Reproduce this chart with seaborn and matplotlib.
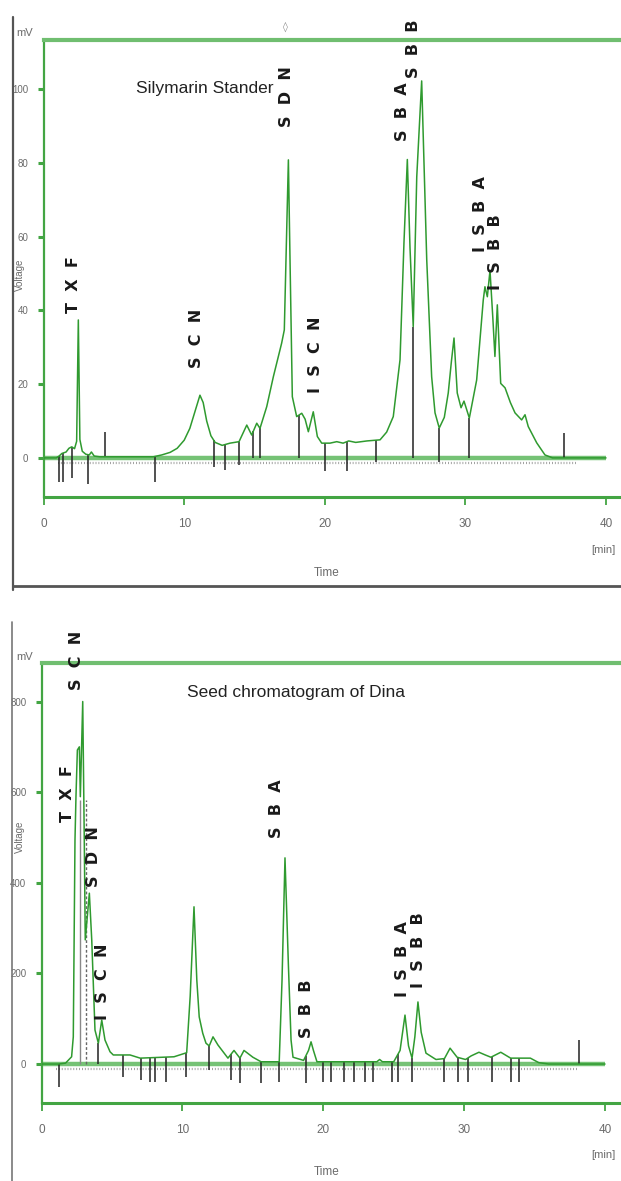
import numpy as np
import pandas as pd
import matplotlib
matplotlib.use('Agg')
import matplotlib.pyplot as plt
from matplotlib.lines import Line2D
from matplotlib.patches import Rectangle
import seaborn as sns

W, H = 621, 1181

# ---- Silymarin standard (time in min, signal in mV) ----
std_time = [0.0, 0.9, 1.1, 1.3, 1.6, 1.8, 2.0, 2.2, 2.35, 2.47, 2.58, 2.75, 3.0, 3.25, 3.4, 3.6,
            4.0, 7.8, 8.4, 9.0, 9.5, 10.0, 10.4, 10.8, 11.12, 11.35, 11.6, 11.9, 12.2, 12.7, 13.26,
            13.9, 14.45, 14.8, 15.16, 15.39, 15.87, 16.34, 16.93, 17.12, 17.29, 17.41, 17.53, 17.69,
            18.0, 18.36, 18.6, 18.83, 19.18, 19.47, 19.78, 20.37, 20.85, 21.3, 21.7, 22.2, 23.0,
            23.93, 24.4, 24.87, 25.35, 25.63, 25.87, 26.06, 26.29, 26.54, 26.89, 27.25, 27.6, 27.84,
            28.14, 28.5, 28.78, 29.0, 29.19, 29.42, 29.69, 29.9, 30.28, 30.8, 31.27, 31.39, 31.56,
            31.75, 31.95, 32.1, 32.27, 32.51, 32.82, 33.2, 33.53, 34.0, 34.24, 34.47, 35.07, 35.66,
            36.2, 40.0]
std_signal = [0, 0, 0.5, 1.2, 1.6, 2.6, 3.0, 2.5, 4.5, 37.4, 5.0, 1.8, 1.0, 0.8, 1.6, 0.5,
              0.3, 0.3, 0.8, 1.5, 2.6, 4.8, 8.0, 13.0, 17.0, 15.0, 10.0, 6.0, 4.2, 3.4, 4.0,
              4.4, 8.9, 6.2, 9.4, 8.0, 13.9, 22.0, 31.1, 34.7, 61.8, 80.8, 52.8, 16.6,
              11.2, 12.1, 10.5, 7.1, 12.5, 5.8, 4.0, 4.0, 4.4, 4.0, 4.6, 4.2, 4.6,
              4.9, 7.0, 11.2, 26.6, 58.3, 80.9, 57.0, 35.6, 76.2, 102.2, 53.7, 22.0, 12.2,
              8.1, 11.0, 17.6, 26.0, 32.5, 17.6, 13.6, 15.4, 10.8, 21.1, 42.8, 46.4, 43.7,
              50.8, 38.0, 27.5, 41.5, 20.2, 19.0, 15.0, 12.2, 10.3, 11.7, 8.5, 4.1, 0.8,
              0, 0]
std_peaks = ["TXF", "SCN", "SDN", "ISCN", "SBA", "SBB", "ISBA", "ISBB"]
std_peak_time = [2.16, 10.84, 17.31, 19.37, 25.51, 26.29, 31.04, 32.15]
std_peak_label_y = [39.3, 24.4, 89.7, 17.6, 85.9, 102.9, 55.9, 45.5]
std_marks = [1.07, 1.35, 2.03, 3.15, 4.37, 7.89, 12.1, 12.9, 13.9, 14.92, 15.39, 18.19,
             20.01, 21.56, 23.66, 26.29, 28.14, 30.28, 37.04]
std_mark_end = [-6.5, -6.5, -5.4, -7.0, 7.0, -6.5, -2.4, -3.3, -1.9, 0, 0, 0,
                -3.5, -3.5, -1.0, 0, -1.0, 0, 6.8]
std_yticks = [0, 20, 40, 60, 80, 100]

# ---- Seed chromatogram of Dina ----
seed_time = [0.0, 1.19, 1.7, 2.13, 2.25, 2.37, 2.44, 2.54, 2.68, 2.75, 2.92, 3.03, 3.1, 3.39,
             3.56, 3.79, 4.03, 4.27, 4.5, 4.86, 5.09, 6.28, 7.0, 9.4, 9.8, 10.3, 10.55, 10.82,
             11.02, 11.19, 11.44, 11.67, 11.9, 12.17, 12.52, 13.23, 13.66, 14.08, 14.37, 15.0,
             15.58, 16.87, 17.07, 17.28, 17.52, 17.71, 17.85, 18.6, 18.95, 19.13, 19.3, 19.55,
             23.8, 24.0, 24.2, 25.0, 25.45, 25.8, 26.05, 26.3, 26.5, 26.72, 26.95, 27.29, 28.0,
             28.6, 29.0, 29.5, 30.1, 30.5, 31.05, 31.5, 31.9, 32.6, 33.3, 34.7, 35.3, 36.0, 40.0]
seed_signal = [0, 0, 2, 16, 60, 494, 590, 693, 700, 590, 800, 494, 274, 377,
               274, 75, 46, 97, 53, 27, 20, 20, 13, 16, 20, 25, 150, 347,
               185, 104, 68, 46, 40, 60, 42, 13, 30, 13, 30, 15,
               5, 5, 185, 455, 220, 53, 15, 8, 30, 49, 30, 5,
               5, 10, 5, 5, 30, 108, 40, 13, 60, 137, 70, 24, 10,
               12, 35, 15, 10, 18, 26, 20, 15, 26, 13, 13, 3, 0, 0]
seed_peaks = ["TXF", "SCN", "SDN", "ISCN", "SBA", "SBB", "ISBA", "ISBB"]
seed_peak_time = [1.83, 2.49, 3.67, 4.34, 16.71, 18.84, 25.59, 26.79]
seed_peak_label_y = [535, 826, 391, 97, 499, 57, 148, 168]
seed_marks = [1.21, 4.02, 5.76, 7.03, 7.67, 8.07, 8.8, 10.26, 11.86, 13.44, 14.06, 15.6,
              16.87, 18.75, 19.96, 20.52, 21.45, 22.16, 22.97, 23.53, 24.88, 25.3, 26.29,
              28.6, 29.57, 30.28, 32.0, 33.32, 33.88, 38.15]
seed_mark_end = [-51, 0, -29, -35, -40, -40, -40, -29, -13, -35, -42, -42,
                 -40, -42, -40, -40, -40, -40, -40, -40, -40, -40, -40,
                 -40, -40, -40, -40, -40, -40, 53]
seed_drop_time = [2.73, 3.15]
seed_drop_top = [583, 583]
seed_yticks = [0, 200, 400, 600, 800]

xticks = [0, 10, 20, 30, 40]

GREEN = '#2f9a2f'
FRAME = '#43a543'
GREY = '#6b6b6b'

sns.set_theme(style='white')
plt.rcParams['font.family'] = ['Liberation Sans Narrow', 'DejaVu Sans Condensed', 'Liberation Sans']

fig = plt.figure(figsize=(W / 100, H / 100), dpi=100)


def fx(x):
    return x / W


def fy(y):
    return 1 - y / H


def spaced(s):
    return '  '.join(s)


def draw_panel(ax, time, signal, yticks, peaks, peak_t, peak_y, marks, mark_end,
               xlim, ylim, label_clip=None):
    df = pd.DataFrame({'Time': time, 'Signal': signal})
    ax.set_xlim(*xlim)
    ax.set_ylim(*ylim)
    # baseline + hatch
    ax.hlines(0, 0, 40, color='#5db85d', lw=3.2, alpha=0.85, zorder=1)
    ax.hlines(-0.012 * (ylim[1] - ylim[0]), 1.0, 38.0, color='#555555', lw=1.6,
              linestyles=(0, (0.4, 0.9)), alpha=0.6, zorder=1)
    sns.lineplot(data=df, x='Time', y='Signal', ax=ax, color=GREEN, lw=1.1,
                 estimator=None, sort=False, zorder=3)
    # integration marks
    starts = np.interp(marks, time, signal)
    ax.vlines(marks, starts, mark_end, color='#222222', lw=1.1, zorder=2)
    for name, t, y in zip(peaks, peak_t, peak_y):
        txt = ax.text(t, y, spaced(name), rotation=90, ha='center', va='bottom',
                      fontsize=11.5, fontweight='bold', family=['DejaVu Sans'],
                      color='#1a1a1a', clip_on=False, zorder=4)
        if label_clip is not None:
            txt.set_clip_path(label_clip)
    # frame
    for side in ['left', 'top', 'bottom']:
        ax.spines[side].set_visible(True)
        ax.spines[side].set_color(FRAME)
    ax.spines['right'].set_visible(False)
    ax.spines['left'].set_linewidth(1.6)
    ax.spines['top'].set_linewidth(3.0)
    ax.spines['top'].set_color('#70be70')
    ax.spines['bottom'].set_linewidth(2.2)
    ax.set_xticks(xticks)
    ax.set_xticklabels([str(v) for v in xticks])
    ax.set_yticks(yticks)
    ax.set_yticklabels([str(v) for v in yticks])
    ax.tick_params(axis='y', direction='out', length=4, width=2.2, color=FRAME,
                   labelsize=7, labelcolor=GREY, pad=7, left=True)
    ax.tick_params(axis='x', direction='out', length=6, width=1.3, color=FRAME,
                   labelsize=8.5, labelcolor=GREY, pad=9, bottom=True)
    ax.set_xlabel('')
    ax.set_ylabel('')
    ax.grid(False)


# ---- top panel ----
ax1 = fig.add_axes([fx(43.6), fy(497), 1 - fx(43.6), 457 / H])
clip_rect = Rectangle((0, 0), 1, fy(17), transform=fig.transFigure, visible=False)
fig.add_artist(clip_rect)
draw_panel(ax1, std_time, std_signal, std_yticks, std_peaks, std_peak_time,
           std_peak_label_y, std_marks, std_mark_end,
           (0, (W - 43.6) / 14.06), (-10.6, 113.3), label_clip=clip_rect)

# ---- bottom panel ----
ax2 = fig.add_axes([fx(41.6), fy(1103), 1 - fx(41.6), 440 / H])
draw_panel(ax2, seed_time, seed_signal, seed_yticks, seed_peaks, seed_peak_time,
           seed_peak_label_y, seed_marks, seed_mark_end,
           (0, (W - 41.6) / 14.085), (-86, 885))
ax2.vlines(seed_drop_time[0], 0, seed_drop_top[0], color='#888888', lw=1.0, zorder=2)
ax2.vlines(seed_drop_time[1], 0, seed_drop_top[1], color='#666666', lw=1.0,
           linestyles=(0, (2, 1.5)), zorder=2)

# ---- titles and axis text ----
fig.text(fx(205), fy(88), 'Silymarin Stander', ha='center', va='center',
         fontsize=12.5, color='#222222')
fig.text(fx(296), fy(692), 'Seed chromatogram of Dina', ha='center', va='center',
         fontsize=12.5, color='#222222')
for ytop, yvolt, ymin, ytime in [(33, 275, 550, 573), (657, 837, 1155, 1172)]:
    fig.text(fx(16), fy(ytop), 'mV', ha='left', va='center', fontsize=8, color=GREY)
    fig.text(fx(20), fy(yvolt), 'Voltage', ha='center', va='center', rotation=90,
             fontsize=7, color=GREY)
    fig.text(fx(603), fy(ymin), '[min]', ha='center', va='center', fontsize=8, color=GREY)
    fig.text(fx(327), fy(ytime), 'Time', ha='center', va='center', fontsize=8.5, color=GREY)
fig.text(fx(285), fy(27), '\u25ca', ha='center', va='center', fontsize=7,
         color='#888888', family=['DejaVu Sans'])

# grey outer frames
fig.add_artist(Line2D([fx(13), fx(13)], [fy(17), fy(590)], color='#555555', lw=1.6))
fig.add_artist(Line2D([fx(13), 1], [fy(586), fy(586)], color='#555555', lw=2.0))
fig.add_artist(Line2D([fx(12), fx(12)], [fy(622), 0], color='#777777', lw=1.2))

fig.savefig('out.png', dpi=100)
